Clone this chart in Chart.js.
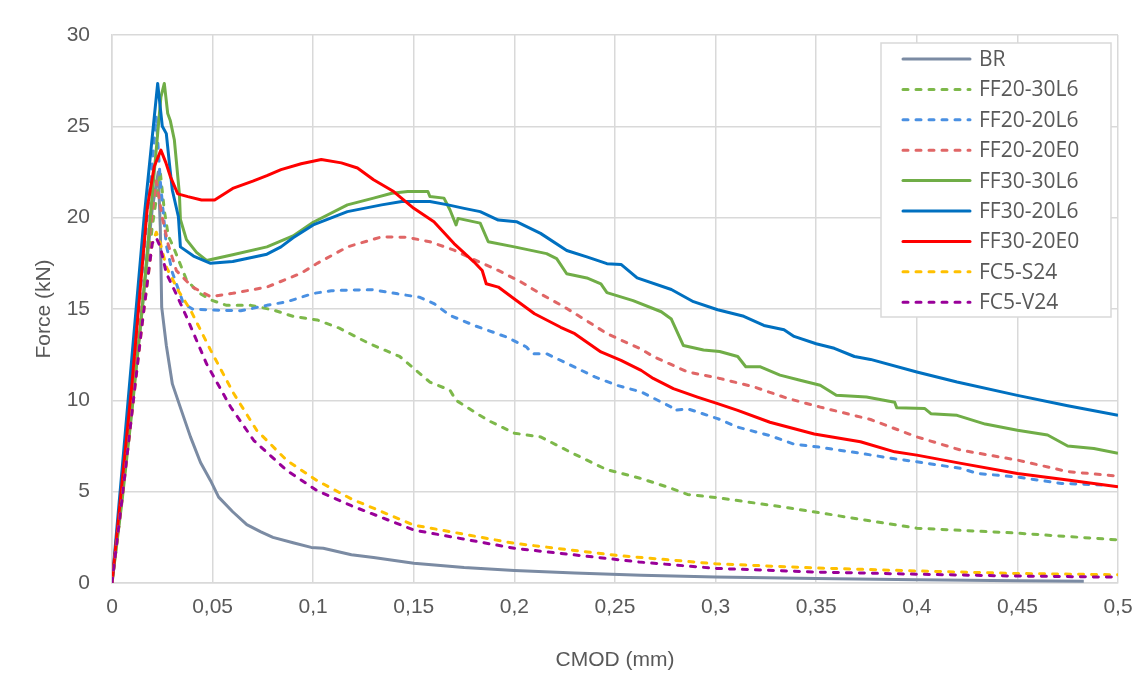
<!DOCTYPE html>
<html>
<head>
<meta charset="utf-8">
<script src="https://cdn.jsdelivr.net/npm/chart.js@4.4.1/dist/chart.umd.min.js"></script>
<style>
  html, body { margin:0; padding:0; background:#fff; }
  #wrap { width:1139px; height:684px; position:relative; }
</style>
</head>
<body>
<div id="wrap"><canvas id="chart" width="1139" height="684"></canvas></div>
<script>
// series names (legend order)
const seriesNames = ['BR','FF20-30L6','FF20-20L6','FF20-20E0','FF30-30L6','FF30-20L6','FF30-20E0','FC5-S24','FC5-V24'];

// CMOD (mm) / Force (kN)
const brX = [0,0.005,0.01,0.015,0.02,0.023,0.024,0.0247,0.027,0.03,0.034,0.039,0.044,0.049,0.053,0.06,0.067,0.074,0.08,0.09,0.099,0.105,0.119,0.13,0.15,0.175,0.2,0.23,0.263,0.3,0.35,0.4,0.45,0.483];
const brY = [0,4.8,9.8,15,20.5,22.5,19.5,15.1,13.0,10.9,9.6,8.0,6.6,5.6,4.7,3.9,3.2,2.8,2.5,2.2,1.95,1.9,1.55,1.4,1.08,0.85,0.69,0.55,0.43,0.33,0.25,0.18,0.12,0.09];

const ff2030l6X = [0,0.005,0.01,0.015,0.02,0.024,0.026,0.028,0.0305,0.037,0.043,0.049,0.057,0.069,0.08,0.09,0.102,0.113,0.128,0.143,0.158,0.168,0.171,0.181,0.187,0.2,0.213,0.229,0.246,0.262,0.277,0.286,0.301,0.336,0.377,0.4,0.45,0.5];
const ff2030l6Y = [0,4.7,9.6,14.5,19.5,22.5,20.4,19.0,18.4,16.6,15.9,15.5,15.2,15.2,14.95,14.6,14.4,13.95,13.1,12.4,11.0,10.55,10.0,9.3,8.9,8.2,8.0,7.1,6.2,5.75,5.22,4.85,4.67,4.12,3.4,3.0,2.73,2.36];

const ff2020l6X = [0,0.005,0.01,0.015,0.02,0.022,0.024,0.027,0.03,0.0355,0.04,0.049,0.064,0.077,0.087,0.1,0.109,0.119,0.13,0.142,0.153,0.16,0.168,0.18,0.196,0.206,0.209,0.216,0.23,0.24,0.251,0.263,0.278,0.279,0.286,0.301,0.311,0.327,0.339,0.352,0.372,0.389,0.4,0.422,0.43,0.45,0.472,0.495];
const ff2020l6Y = [0,5.5,11.3,17.0,23.0,25.5,22.0,18.5,17.0,15.3,15.0,14.95,14.9,15.2,15.4,15.85,16.0,16.04,16.05,15.83,15.64,15.3,14.65,14.1,13.47,12.92,12.55,12.55,11.82,11.28,10.82,10.46,9.63,9.45,9.54,9.0,8.53,8.07,7.6,7.43,7.1,6.8,6.64,6.27,6.0,5.8,5.45,5.35];

const ff2020e0X = [0,0.005,0.01,0.015,0.02,0.022,0.025,0.028,0.032,0.04,0.049,0.06,0.077,0.094,0.102,0.117,0.134,0.147,0.158,0.17,0.18,0.192,0.203,0.213,0.225,0.236,0.246,0.263,0.269,0.286,0.302,0.319,0.336,0.352,0.377,0.4,0.422,0.45,0.475,0.5];
const ff2020e0Y = [0,5.0,10.2,15.3,20.3,22.0,20.0,18.5,17.1,16.2,15.68,15.86,16.2,16.96,17.5,18.4,18.95,18.92,18.68,18.22,17.7,17.11,16.5,15.83,15.1,14.35,13.65,12.8,12.4,11.56,11.2,10.74,10.1,9.63,8.95,8.0,7.27,6.73,6.1,5.85];

const ff3030l6X = [0,0.005,0.01,0.015,0.019,0.0243,0.026,0.0277,0.029,0.031,0.0335,0.034,0.037,0.042,0.047,0.06,0.077,0.09,0.1,0.117,0.13,0.139,0.147,0.157,0.158,0.165,0.168,0.171,0.172,0.183,0.187,0.2,0.216,0.221,0.226,0.236,0.243,0.246,0.259,0.273,0.278,0.284,0.294,0.302,0.311,0.315,0.322,0.332,0.342,0.352,0.36,0.375,0.389,0.39,0.404,0.407,0.42,0.434,0.45,0.465,0.475,0.488,0.5];
const ff3030l6Y = [0,4.5,9.5,15,20.0,26.6,27.35,25.7,25.3,24.25,21.3,19.9,18.8,18.1,17.66,17.97,18.4,19.0,19.75,20.7,21.07,21.34,21.43,21.43,21.16,21.07,20.42,19.6,19.96,19.7,18.68,18.4,18.03,17.76,16.93,16.7,16.38,15.9,15.46,14.85,14.45,13.0,12.76,12.67,12.4,11.84,11.84,11.38,11.1,10.83,10.28,10.18,9.9,9.6,9.55,9.27,9.18,8.7,8.36,8.1,7.5,7.36,7.1];

const ff3020l6X = [0,0.005,0.01,0.016,0.0227,0.025,0.027,0.0285,0.03,0.033,0.034,0.0405,0.049,0.06,0.077,0.084,0.09,0.1,0.117,0.134,0.144,0.158,0.167,0.175,0.183,0.192,0.201,0.213,0.226,0.236,0.246,0.253,0.261,0.278,0.289,0.301,0.314,0.324,0.334,0.339,0.35,0.359,0.369,0.377,0.4,0.42,0.45,0.475,0.5];
const ff3020l6Y = [0,6.2,12.5,20.05,27.35,25.0,24.6,23.0,21.5,20.05,18.4,17.9,17.5,17.6,18.0,18.4,18.9,19.6,20.33,20.7,20.88,20.88,20.7,20.51,20.33,19.87,19.78,19.14,18.2,17.85,17.48,17.44,16.7,16.07,15.4,14.96,14.6,14.1,13.86,13.5,13.1,12.85,12.4,12.24,11.55,11.0,10.27,9.7,9.18];

const ff3020e0X = [0,0.005,0.01,0.0176,0.021,0.0243,0.0268,0.029,0.0327,0.0377,0.0445,0.051,0.06,0.07,0.077,0.084,0.094,0.104,0.114,0.122,0.13,0.14,0.15,0.16,0.17,0.18,0.184,0.186,0.192,0.2,0.21,0.223,0.23,0.243,0.253,0.263,0.269,0.279,0.291,0.301,0.311,0.327,0.349,0.372,0.389,0.4,0.422,0.45,0.475,0.5];
const ff3020e0Y = [0,5.5,11.0,20.6,22.8,23.7,23.0,22.25,21.3,21.15,20.97,20.97,21.6,22.0,22.3,22.63,22.95,23.18,23.0,22.72,22.08,21.43,20.51,19.78,18.58,17.57,17.11,16.38,16.2,15.55,14.74,14.0,13.65,12.65,12.19,11.64,11.2,10.64,10.18,9.82,9.45,8.8,8.16,7.73,7.18,7.0,6.55,6.0,5.64,5.27];

const fc5s24X = [0,0.005,0.01,0.015,0.02,0.022,0.024,0.027,0.033,0.039,0.049,0.0605,0.072,0.087,0.102,0.119,0.15,0.2,0.252,0.3,0.35,0.4,0.45,0.5];
const fc5s24Y = [0,4.6,9.4,14.2,18.6,19.2,18.6,17.3,16.0,14.95,12.75,10.37,8.35,6.7,5.6,4.6,3.17,2.17,1.5,1.05,0.82,0.66,0.52,0.45];

const fc5v24X = [0,0.005,0.01,0.015,0.02,0.022,0.024,0.027,0.032,0.037,0.047,0.059,0.0705,0.087,0.102,0.119,0.15,0.2,0.262,0.3,0.35,0.4,0.45,0.5];
const fc5v24Y = [0,4.6,9.4,14.2,18.6,18.9,18.4,16.96,15.8,14.58,12.0,9.63,7.8,6.15,5.05,4.23,2.9,1.9,1.15,0.8,0.6,0.48,0.38,0.32];

// axis ticks
const xTicks = [0,0.05,0.1,0.15,0.2,0.25,0.3,0.35,0.4,0.45,0.5];
const yTicks = [0,5,10,15,20,25,30];

// styles per series
const colors = ['#7b8ba3','#7db84a','#4a90e2','#e06666','#70ad47','#0070c0','#ff0000','#ffc000','#990099'];
const dashed = [false,true,true,true,false,false,false,true,true];

const xs = [brX,ff2030l6X,ff2020l6X,ff2020e0X,ff3030l6X,ff3020l6X,ff3020e0X,fc5s24X,fc5v24X];
const ys = [brY,ff2030l6Y,ff2020l6Y,ff2020e0Y,ff3030l6Y,ff3020l6Y,ff3020e0Y,fc5s24Y,fc5v24Y];

function fmt(v){
  return Number(v.toFixed(2)).toString().replace('.', ',');
}

const datasets = seriesNames.map((name,i)=>({
  label: name,
  data: xs[i].map((x,k)=>({ x, y: ys[i][k] })),
  showLine: true,
  borderColor: colors[i],
  backgroundColor: colors[i],
  borderWidth: 3,
  borderDash: dashed[i] ? [5,8] : [],
  borderCapStyle: dashed[i] ? 'round' : 'butt',
  borderJoinStyle: 'round',
  pointRadius: 0,
  tension: 0,
  order: seriesNames.length - i   // later series on top, like Excel
}));

// legend drawn inside the plot, top right
const boxLegend = {
  id: 'boxLegend',
  afterDraw(chart){
    const ctx = chart.ctx;
    const a = chart.chartArea;
    const left = a.right - 237, top = a.top + 8, w = 230, h = 274;
    ctx.save();
    ctx.fillStyle = '#fff';
    ctx.fillRect(left, top, w, h);
    ctx.strokeStyle = '#d9d9d9';
    ctx.lineWidth = 1.5;
    ctx.strokeRect(left, top, w, h);
    ctx.font = "21px 'Open Sans', sans-serif";
    ctx.textBaseline = 'middle';
    chart.data.datasets.forEach((ds,i)=>{
      const y = top + 16 + i * 30.4;
      ctx.beginPath();
      ctx.strokeStyle = ds.borderColor;
      ctx.lineWidth = 3;
      ctx.lineCap = 'round';
      ctx.setLineDash(ds.borderDash);
      ctx.moveTo(left + 22, y);
      ctx.lineTo(left + 89, y);
      ctx.stroke();
      ctx.setLineDash([]);
      ctx.fillStyle = '#595959';
      ctx.fillText(ds.label, left + 98, y + 1);
    });
    ctx.restore();
  }
};

const gridColor = '#d9d9d9';

new Chart(document.getElementById('chart').getContext('2d'), {
  type: 'scatter',
  data: { datasets },
  options: {
    responsive: false,
    animation: false,
    layout: { padding: { left: 0, top: 35, right: 21, bottom: 0 } },
    plugins: { legend: { display: false }, tooltip: { enabled: false } },
    scales: {
      x: {
        type: 'linear', min: 0, max: 0.5,
        afterBuildTicks: s => { s.ticks = xTicks.map(v => ({ value: v })); },
        afterFit: s => { s.height = 101; s.paddingLeft = 0; s.paddingRight = 0; },
        grid: { color: gridColor, lineWidth: 1.5, drawTicks: false },
        border: { color: gridColor, width: 1.5 },
        ticks: { padding: 12, color: '#595959', font: { size: 21 }, callback: v => fmt(v), maxRotation: 0 },
        title: { display: true, text: 'CMOD (mm)', color: '#595959', font: { size: 21 }, padding: { top: 0, bottom: 11 } }
      },
      y: {
        type: 'linear', min: 0, max: 30,
        afterBuildTicks: s => { s.ticks = yTicks.map(v => ({ value: v })); },
        afterFit: s => { s.width = 112; s.paddingTop = 0; s.paddingBottom = 0; },
        grid: { color: gridColor, lineWidth: 1.5, drawTicks: false },
        border: { color: gridColor, width: 1.5 },
        ticks: { padding: 22, color: '#595959', font: { size: 21 } },
        title: { display: true, text: 'Force (kN)', color: '#595959', font: { size: 21 }, padding: { top: 32, bottom: 0 } }
      }
    }
  },
  plugins: [boxLegend]
});
</script>
</body>
</html>
